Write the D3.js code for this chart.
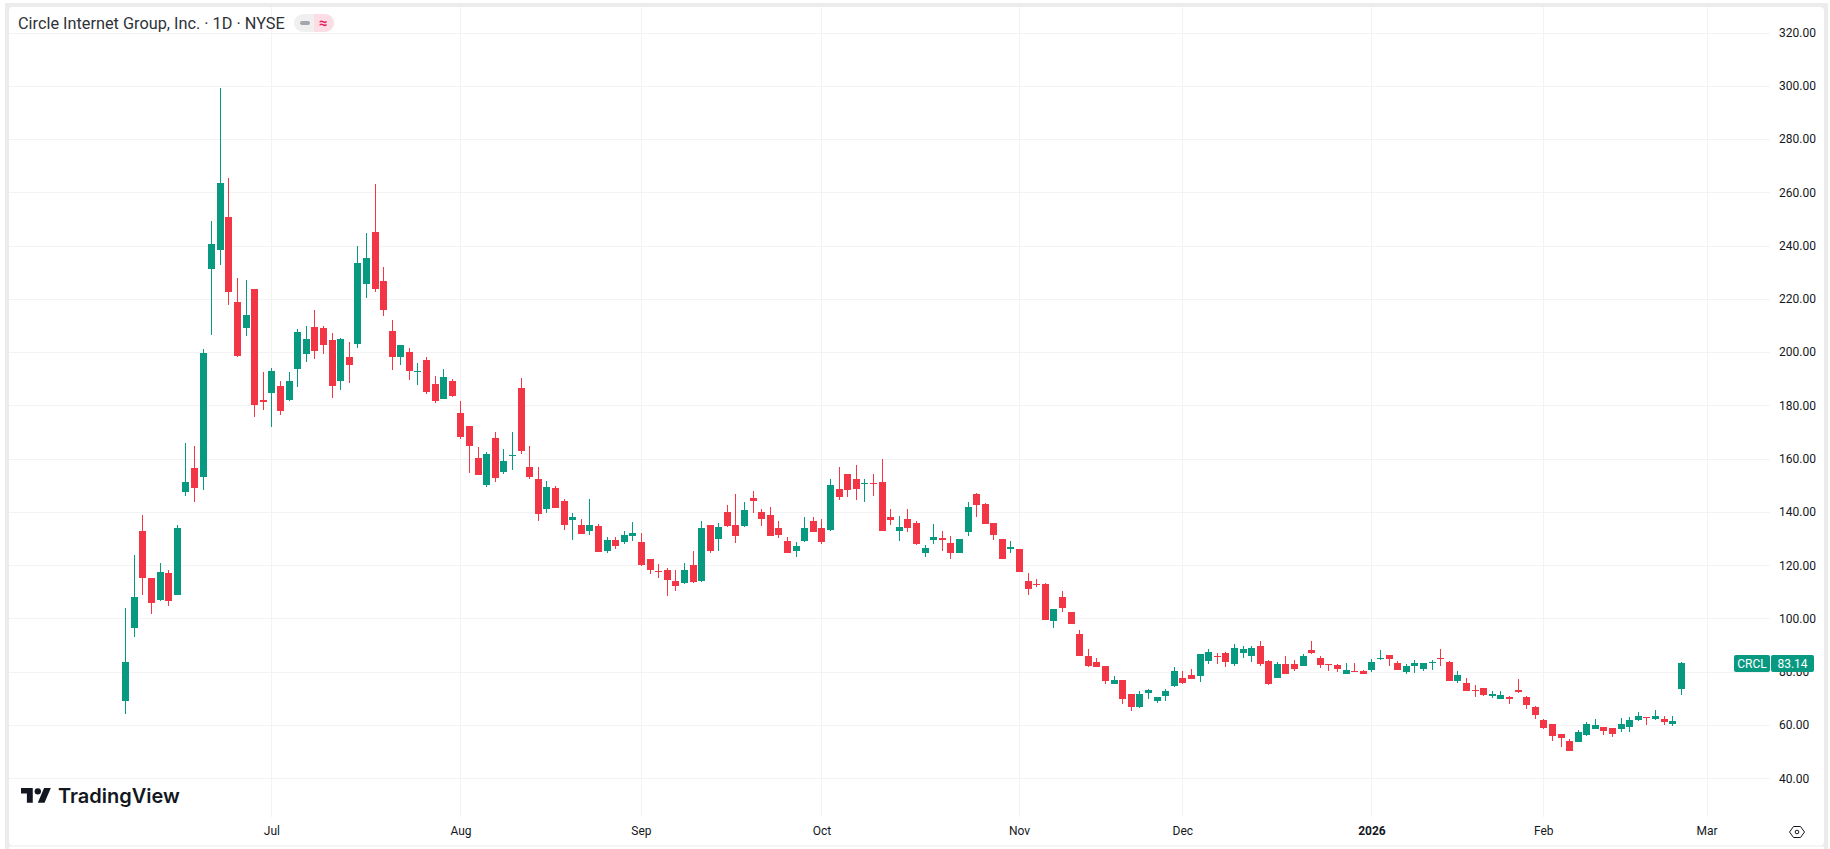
<!DOCTYPE html>
<html>

<head>
    <meta charset="utf-8">
    <script src="https://d3js.org/d3.v7.min.js"></script>
    <style>
        body { margin: 0; background: #fff; }
        svg { display: block; }
        text { font-family: Roboto, sans-serif; fill: #131722; }
    </style>
</head>

<body>
    <svg width="1830" height="849"></svg>

    <script>
    // daily candles (index 0 = first session)
    var opens = [69.1,96.5,132.9,115.25,107,117.1,108.9,147.5,156.5,153.1,231.2,238.35,250.7,218.85,209.1,223.7,182.1,184.7,187.35,182.1,
        193.7,199.35,209.5,209.1,204.6,189.2,198.2,203.1,225.6,245.1,226.7,208,198.2,200.1,192.8,197.1,188.1,182.5,189.2,177.1,
        172.25,160.25,150.1,167.75,155,161,186.5,156.9,152.4,141.1,149,144.1,137,135.1,132.9,134.75,125.4,129.5,128.75,131,
        128.75,122.4,117.9,118.25,114.1,113.4,120.1,114.1,135.1,129.9,140,135.1,134.75,145.25,140,138.9,134,129.1,125.4,129.1,
        136.6,134,133.25,148.6,154.25,152.4,150.5,150.9,151.25,138.25,133,137.5,136,124.75,129.6,130.4,128.5,124.75,132.6,146.9,
        143.1,136,130,125.9,125.9,113.9,113.1,113.1,98.9,107.9,102.25,94,86.1,83.5,82,75.25,76.75,71.5,66.6,71.9,
        68.9,70.75,74.5,77.5,78.6,78.25,83.9,86.1,86.9,83.1,86.9,85.75,89.5,83.9,77.5,83.1,82.75,82,88,85,
        82.75,82.4,79.15,80.3,80.3,80.65,84.8,86.25,83.25,79.9,82.15,81,83.25,85.15,83.65,76.5,75.8,73.15,73.9,70.9,
        69.75,70.5,73.15,70.5,66.75,61.9,60.4,56.65,54,53.65,56.25,58.5,59.25,58.9,58.5,59.25,61.9,63,62.25,62.25,
        60.4,73.5];
    var highs = [104,123.9,138.9,115.25,120.9,118.25,135.1,165.9,164.75,201.2,249.2,299.1,265.35,227.85,227.1,223.7,192.6,194.1,189.2,192.6,
        208.7,209.85,215.85,209.85,207.2,205.35,203.85,239.85,244.7,263.1,232,212.1,202.7,201.6,196,198.2,191.1,193.7,190,181.6,
        172.25,164.4,162.5,170,163.6,170,190.25,164.75,156.9,151.6,149.75,144.9,139.6,137.4,144.9,135.5,130.6,130.6,132.9,136.25,
        132.1,122.4,120.5,119,118.25,120.9,125.4,136.6,135.1,135.9,142.6,146.75,143.75,147.9,141.1,141.9,136.6,130.6,128.75,138.1,
        138.1,137.4,152.4,156.9,154.25,157.6,152.4,154.25,159.9,141.25,138.6,141.25,136.75,127.75,135.6,133,131.1,130,143.9,147.25,
        143.5,136,130,129.25,125.9,117.25,115,113.5,103.4,110.5,102.6,95.5,88.4,85,82,78.25,76.75,71.5,72.6,73.4,
        70.4,73.4,81.6,80.1,80.9,86.5,88.4,86.9,87.6,90.25,89.5,89.5,91.4,84.25,83.5,85.75,84.6,86.5,91.4,85.75,
        83.1,82.75,83.25,83.25,80.65,84.8,88.15,86.25,84,82.9,84.4,83.25,84.4,88.5,84,80.3,77.65,75,73.9,72.8,
        72.8,70.9,77.25,70.9,67.15,62.25,60.4,56.65,54.8,58.15,61.15,62.25,59.25,58.9,62.65,63,64.9,63,65.65,63.4,
        63.4,83.65];
    var lows = [64.25,93.1,108.9,101.75,106.6,104.75,108.9,146,143.75,148.25,206.5,232.7,217.7,198.2,206.1,175.7,178.35,172,176.5,181.7,
        187,196.35,197.5,199.35,182.85,185.85,188.5,201.6,220.35,222.6,213.6,193.35,195.2,189.6,187.7,184.35,181,182.5,183.2,167.4,
        154.6,153.9,149.4,151.25,154.25,155.75,161.75,152.4,136.6,139.6,141.5,133.25,129.5,131.75,131.4,125,124.6,126.1,128,129.1,
        119.75,116.75,115.25,108.5,110.4,113,113.4,113.75,124.6,125.4,134.4,128.4,134.4,139.6,134.75,131,130.25,124.6,123.1,128.75,
        132.5,128,132.9,144.5,145.6,144.5,143.75,146,132.9,135.25,129.25,132.6,127.75,123.25,128.1,125.5,122.5,124.4,131.1,138.25,
        135.6,129.6,122.5,124.75,117.6,109,112,99.6,96.25,102.6,98.1,86.1,81.6,81.6,75.25,75.25,67.75,65.1,66.25,69.6,
        68.1,68.9,74.1,75.25,77.1,76,83.1,83.1,81.6,82,85,83.5,82,74.9,77.5,79,80.1,82,86.5,81.25,
        80.1,79.75,79.15,79.9,79.15,79.9,84.4,82.15,80.65,79.15,79.5,80.3,80.65,82.15,76.5,75.75,72.8,70.5,70.9,70.15,
        69.75,67.9,72,66,62.25,58.5,54,51.75,50.25,53.65,55.9,58.5,56.25,55.5,57.4,57.4,61.5,60,61.9,60,
        59.65,71.25];
    var closes = [83.75,108.1,115.25,105.9,117.5,106.6,134,151.25,149,199.7,240.6,263.5,222.6,198.6,214,180.2,181.35,193,178,189.2,
        207.6,205,200.5,202.7,187.35,205,195.2,233.5,235.35,223.7,215.85,198.2,202.7,193,193,185.1,181.7,190.7,183.6,168.1,
        164.75,153.9,161.75,152.75,159.1,161.4,162.9,153.1,139.25,149.4,141.5,135.1,138.1,131.75,135.1,125,129.5,127.25,131.4,132.1,
        120.1,118.25,117.5,114.5,112.25,118.25,113.75,134,125.4,134.4,134.75,131,140.75,144.1,137.4,131,131.4,124.6,127.25,134,
        132.5,128.75,150.1,145.6,148.25,148.6,150.9,150.5,132.9,137.1,134.5,134.1,128.1,126.6,130.75,129.6,124.4,130,142,142.75,
        135.6,131.5,122.5,127,117.6,110.9,112.75,99.6,103.4,103.75,98.1,86.1,82,81.6,76.4,76.75,69.6,66.6,71.5,73,
        70.4,72.6,80.1,75.6,77.1,86.5,87.6,85.4,83.5,89.1,88.4,88.75,83.1,75.25,83.1,79,80.9,86.1,86.9,82.4,
        82.4,80.9,80.65,79.9,79.15,83.65,85.15,84.8,80.65,82.15,83.25,83.25,83.65,84.8,76.5,78.75,72.8,72.8,71.25,71.65,
        71.25,69.75,72.4,67.5,63.75,58.9,55.9,55.15,50.25,57.4,60.4,60,57.75,56.65,60.4,61.9,63.4,62.65,63.4,61.15,
        61.5,83.14];

    // axis labels
    var priceTicks = [40,60,80,100,120,140,160,180,200,220,240,260,280,300,320];
    var timeTicks = [17,39,60,81,104,123,145,165,184];
    var timeLabels = ["Jul","Aug","Sep","Oct","Nov","Dec","2026","Feb","Mar"];
    var lastPrice = 83.14;

    var upColor = "#089981", downColor = "#F23645", gridColor = "#f3f3f3", frameColor = "#ececec";

    var x = d3.scaleLinear().domain([0, 184]).range([125.3, 1706.6]);
    var y = d3.scaleLinear().domain([40, 320]).range([778.3, 32.5]);
    var px = function(v){ return Math.round(v); };

    var svg = d3.select("svg");

    // grey frame round the white panel
    svg.append("rect").attr("x", 5).attr("y", 3).attr("width", 1823).attr("height", 846).attr("fill", frameColor);
    svg.append("rect").attr("x", 9).attr("y", 7).attr("width", 1815).attr("height", 838.5).attr("rx", 4).attr("fill", "#fff");
    svg.append("rect").attr("x", 9).attr("y", 846.5).attr("width", 1815).attr("height", 3).attr("fill", "#fff");

    // grid
    svg.append("g").selectAll("line").data(priceTicks).join("line")
        .attr("x1", 9).attr("x2", 1770)
        .attr("y1", function(d){ return px(y(d)) + 0.5; }).attr("y2", function(d){ return px(y(d)) + 0.5; })
        .attr("stroke", gridColor);
    svg.append("g").selectAll("line").data(timeTicks).join("line")
        .attr("y1", 7).attr("y2", 817)
        .attr("x1", function(d){ return px(x(d)) + 0.5; }).attr("x2", function(d){ return px(x(d)) + 0.5; })
        .attr("stroke", gridColor);

    // candles
    var candles = opens.map(function(o, i){
        return {i: i, o: o, h: highs[i], l: lows[i], c: closes[i]};
    });
    var candleColor = function(d){ return d.c >= d.o ? upColor : downColor; };

    var marks = svg.append("g").attr("shape-rendering", "crispEdges");
    marks.selectAll("rect.wick").data(candles).join("rect").attr("class", "wick")
        .attr("x", function(d){ return px(x(d.i)); })
        .attr("width", 1)
        .attr("y", function(d){ return px(y(d.h)); })
        .attr("height", function(d){ return Math.max(1, px(y(d.l)) - px(y(d.h))); })
        .attr("fill", candleColor);
    marks.selectAll("rect.body").data(candles).join("rect").attr("class", "body")
        .attr("x", function(d){ return px(x(d.i)) - 3; })
        .attr("width", 7)
        .attr("y", function(d){ return px(y(Math.max(d.o, d.c))); })
        .attr("height", function(d){ return Math.max(1, px(y(Math.min(d.o, d.c))) - px(y(Math.max(d.o, d.c)))); })
        .attr("fill", candleColor);

    // price axis
    var yAxis = svg.append("g").attr("transform", "translate(1779,0)")
        .call(d3.axisRight(y).tickValues(priceTicks).tickFormat(d3.format(".2f")).tickSize(0).tickPadding(0));
    yAxis.select(".domain").remove();
    yAxis.selectAll("text").attr("font-size", 12).style("font-family", "Roboto, sans-serif").attr("fill", "#131722");

    // time axis
    var xAxis = svg.append("g").attr("transform", "translate(0,826)")
        .call(d3.axisBottom(x).tickValues(timeTicks)
            .tickFormat(function(d, i){ return timeLabels[i]; }).tickSize(0).tickPadding(0));
    xAxis.select(".domain").remove();
    xAxis.selectAll("text").attr("font-size", 12).style("font-family", "Roboto, sans-serif").attr("fill", "#131722")
        .attr("font-weight", function(d, i){ return timeLabels[i] == "2026" ? 700 : 400; });

    // last price tag
    var tagY = y(lastPrice);
    svg.append("rect").attr("x", 1734).attr("y", tagY - 8.5).attr("width", 36).attr("height", 17).attr("rx", 2).attr("fill", upColor);
    svg.append("rect").attr("x", 1771).attr("y", tagY - 8.5).attr("width", 43).attr("height", 17).attr("rx", 2).attr("fill", upColor);
    svg.append("text").attr("x", 1752).attr("y", tagY + 4.5).attr("text-anchor", "middle").attr("font-size", 12)
        .style("fill", "#fff").text("CRCL");
    svg.append("text").attr("x", 1792.5).attr("y", tagY + 4.5).attr("text-anchor", "middle").attr("font-size", 12)
        .style("fill", "#fff").text(d3.format(".2f")(lastPrice));

    // title and status pill
    svg.append("text").attr("x", 18).attr("y", 29).attr("font-size", 16.3).style("fill", "#2e3238")
        .text("Circle Internet Group, Inc. · 1D · NYSE");
    svg.append("rect").attr("x", 294).attr("y", 14).attr("width", 40).attr("height", 18).attr("rx", 9).attr("fill", "#f0f0f0");
    svg.append("path").attr("d", "M314 14h11a9 9 0 0 1 0 18h-11z").attr("fill", "#fcdde6");
    svg.append("rect").attr("x", 300).attr("y", 21).attr("width", 10).attr("height", 4).attr("rx", 2).attr("fill", "#a3a6ad");
    svg.append("text").attr("x", 323).attr("y", 28).attr("text-anchor", "middle").attr("font-size", 15).attr("font-weight", 700)
        .style("fill", "#e91e63").text("≈");

    // logo
    var logo = svg.append("g").attr("transform", "translate(21,788) scale(0.84)").attr("fill", "#131722");
    logo.append("path").attr("d", "M14 17.5H7V6.5H0V0h14zM28 17.5h-8L27.5 0h8z");
    logo.append("circle").attr("cx", 20).attr("cy", 4).attr("r", 3.8);
    svg.append("text").attr("x", 58).attr("y", 802.5).attr("font-size", 20).attr("font-weight", 600)
        .style("font-family", "Inter, sans-serif").style("fill", "#131722").text("TradingView");

    // settings icon
    var gear = svg.append("g").attr("transform", "translate(1797,832)").attr("fill", "none").attr("stroke", "#131722");
    gear.append("path").attr("d", "M-7.5 0L-3.5 -5.5H3.5L7.5 0L3.5 5.5H-3.5Z");
    gear.append("circle").attr("r", 1.8);
    </script>
</body>
</html>
